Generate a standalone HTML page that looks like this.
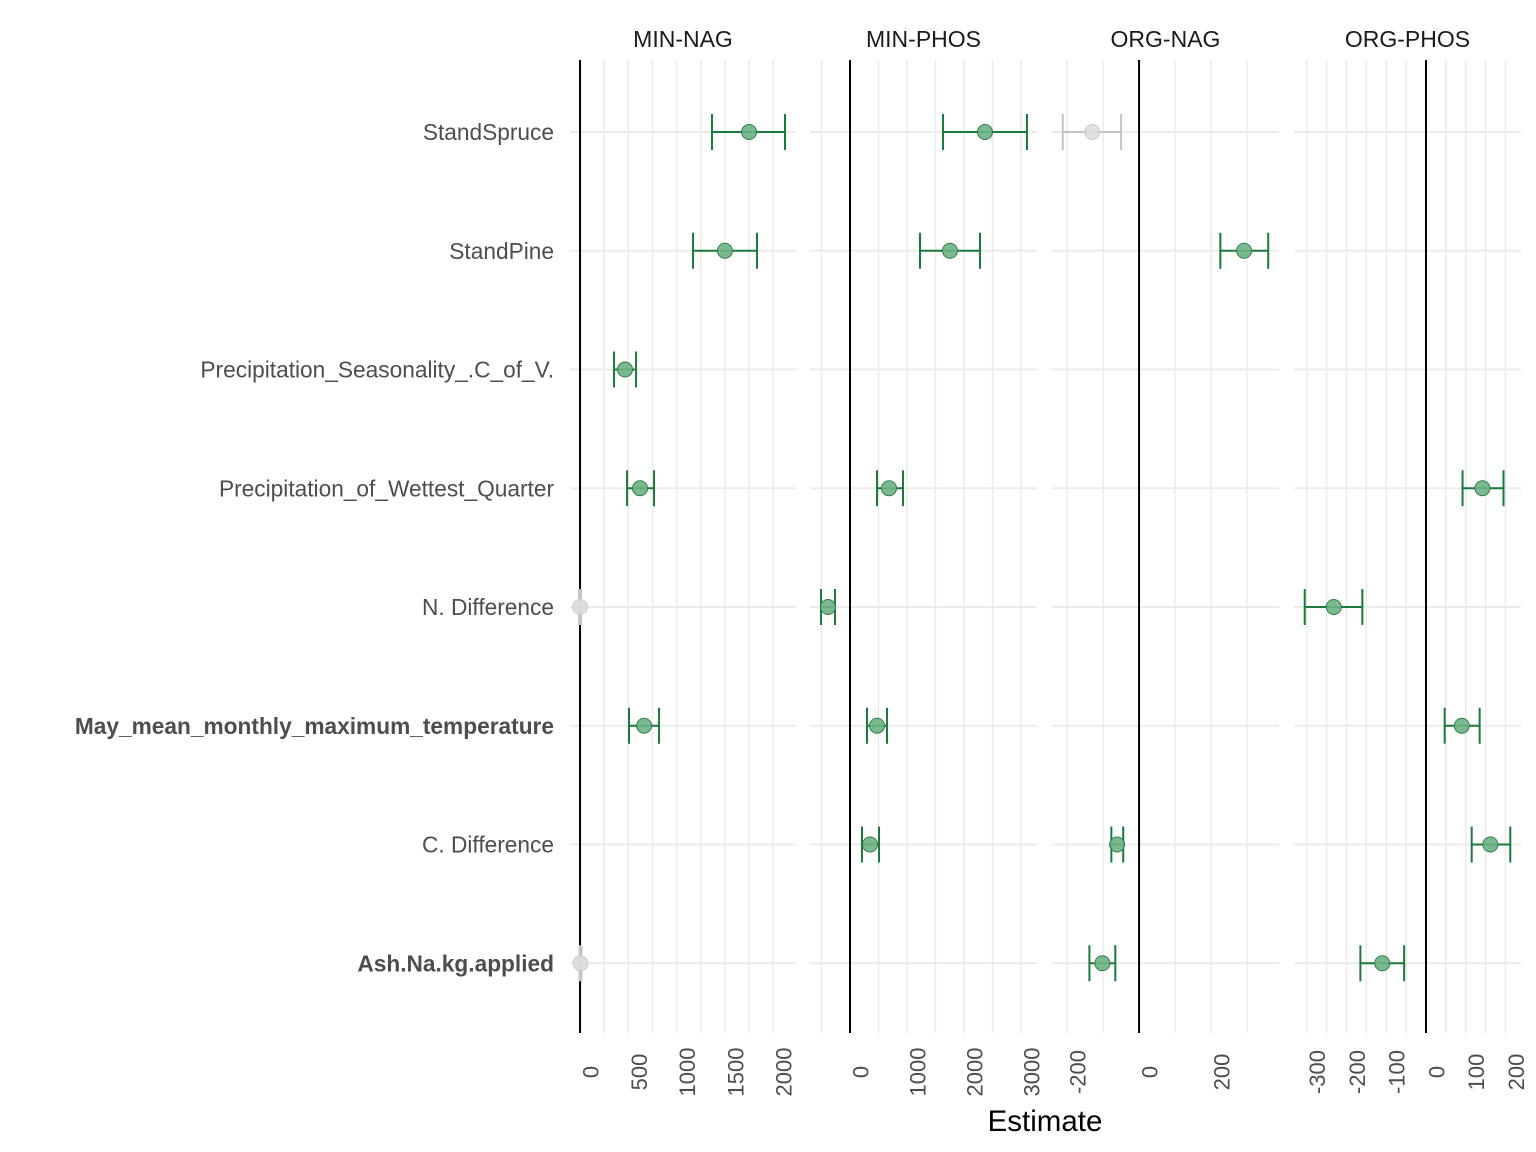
<!DOCTYPE html>
<html><head><meta charset="utf-8"><style>body{margin:0;background:#fff}svg{display:block}text{font-family:"Liberation Sans",sans-serif}</style></head>
<body>
<svg id="c" width="1536" height="1152" xmlns="http://www.w3.org/2000/svg"></svg>
<script>
const terms=["StandSpruce","StandPine","Precipitation_Seasonality_.C_of_V.","Precipitation_of_Wettest_Quarter","N. Difference","May_mean_monthly_maximum_temperature","C. Difference","Ash.Na.kg.applied"];
const boldTerms=["May_mean_monthly_maximum_temperature","Ash.Na.kg.applied"];
const panelNames=["MIN-NAG","MIN-PHOS","ORG-NAG","ORG-PHOS"];
// each row: [termIndex, estimate, low, high, significant]
const minNag=[[0,1750,1366,2122,1],[1,1500,1170,1832,1],[2,466,352,580,1],[3,621,487,766,1],[4,0,-10,10,0],[5,663,507,818,1],[7,5,-5,15,0]];
const minPhos=[[0,2368,1632,3105,1],[1,1754,1228,2281,1],[3,684,474,930,1],[4,-386,-509,-263,1],[5,474,298,649,1],[6,351,210,509,1]];
const orgNag=[[0,-130,-212,-50,0],[1,292,226,359,1],[6,-61,-77,-44,1],[7,-102,-138,-66,1]];
const orgPhos=[[3,142,92,195,1],[4,-232,-305,-160,1],[5,90,47,135,1],[6,162,115,212,1],[7,-110,-165,-55,1]];
const ticks1=[0,500,1000,1500,2000],ticks2=[0,1000,2000,3000],ticks3=[-200,0,200],ticks4=[-300,-200,-100,0,100,200];
const grid1=[0,250,500,750,1000,1250,1500,1750,2000],grid2=[-500,0,500,1000,1500,2000,2500,3000],grid3=[-200,-100,0,100,200,300],grid4=[-300,-250,-200,-150,-100,-50,0,50,100,150,200];
const panels=[
 {d:minNag,t:ticks1,g:grid1,x0:570,x1:796,lo:-104,hi:2236},
 {d:minPhos,t:ticks2,g:grid2,x0:810,x1:1037,lo:-702,hi:3281},
 {d:orgNag,t:ticks3,g:grid3,x0:1052,x1:1279,lo:-242,hi:389},
 {d:orgPhos,t:ticks4,g:grid4,x0:1294,x1:1521,lo:-332,hi:239}];
const svg=document.getElementById('c');const NS="http://www.w3.org/2000/svg";
function el(tag,attrs,parent){const e=document.createElementNS(NS,tag);for(const k in attrs)e.setAttribute(k,attrs[k]);(parent||svg).appendChild(e);return e;}
const yTop=60,yBot=1033;
function yPos(i){return 132+i*118.75;}
terms.forEach((t,i)=>{const e=el('text',{x:554,y:yPos(i)+8,'text-anchor':'end','font-size':22.7,fill:'#4d4d4d','font-weight':boldTerms.includes(t)?'bold':'normal'});e.textContent=t;

});
panels.forEach((p,pi)=>{
 const sx=v=>p.x0+(v-p.lo)/(p.hi-p.lo)*(p.x1-p.x0);
 const g=el('g',{});
 
 
 p.g.forEach(v=>{if(v!==0)el('line',{x1:sx(v),x2:sx(v),y1:yTop,y2:yBot,stroke:'#ebebeb','stroke-width':1.5},g);});
 terms.forEach((t,i)=>el('line',{x1:p.x0,x2:p.x1,y1:yPos(i),y2:yPos(i),stroke:'#ebebeb','stroke-width':2},g));
 el('line',{x1:sx(0),x2:sx(0),y1:yTop,y2:yBot,stroke:'#000','stroke-width':2},g);
 const s=el('text',{x:(p.x0+p.x1)/2,y:47,'text-anchor':'middle','font-size':23,fill:'#1a1a1a'},g);s.textContent=panelNames[pi];
 p.t.forEach(v=>{const x=sx(v)+11;const tx=el('text',{x:0,y:0,'text-anchor':'middle','dominant-baseline':'central','font-size':22,fill:'#4d4d4d',transform:`translate(${x},1072) rotate(-90)`},g);tx.textContent=v<0?'-'+Math.abs(v):String(v);
  
  });
 p.d.forEach(r=>{const y=yPos(r[0]);const col=r[4]?'#1a7a3c':'#c4c4c4';const fill=r[4]?'#6db385':'#dcdcdc';
  const eg=el('g',{},g);
  
  
  el('line',{x1:sx(r[2]),x2:sx(r[3]),y1:y,y2:y,stroke:col,'stroke-width':2},eg);
  el('line',{x1:sx(r[2]),x2:sx(r[2]),y1:y-18,y2:y+18,stroke:col,'stroke-width':2},eg);
  el('line',{x1:sx(r[3]),x2:sx(r[3]),y1:y-18,y2:y+18,stroke:col,'stroke-width':2},eg);
  el('circle',{cx:sx(r[1]),cy:y,r:7.5,fill:fill,stroke:r[4]?'#2e7d4a':'#cccccc','stroke-width':1,'fill-opacity':0.9},eg);});
});
const xt=el('text',{x:1045,y:1131,'text-anchor':'middle','font-size':29.5,fill:'#000'});xt.textContent='Estimate';


</script>
</body></html>
